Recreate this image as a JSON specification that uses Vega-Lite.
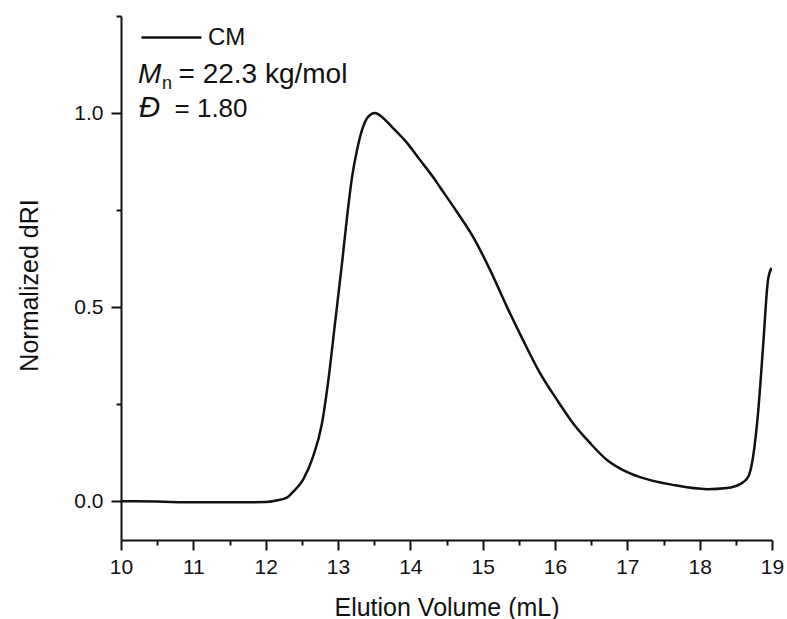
{
  "$schema": "https://vega.github.io/schema/vega-lite/v6.json",
  "width": 651,
  "height": 524,
  "autosize": {"type": "none"},
  "padding": {"left": 121, "top": 16, "right": 15, "bottom": 79},
  "background": "white",
  "config": {
    "view": {"stroke": null},
    "font": "Liberation Sans",
    "axis": {"grid": false, "domainColor": "#111", "tickColor": "#111", "labelColor": "#111", "titleColor": "#111", "labelFont": "Liberation Sans", "titleFont": "Liberation Sans", "titleFontWeight": "normal"},
    "text": {"font": "Liberation Sans", "color": "#111"}
  },
  "data": {"values": [
    {"vol": 10.0, "dri": 0.0, "sample": "CM"},
    {"vol": 10.5, "dri": -0.001, "sample": "CM"},
    {"vol": 11.0, "dri": -0.003, "sample": "CM"},
    {"vol": 11.5, "dri": -0.003, "sample": "CM"},
    {"vol": 12.0, "dri": -0.002, "sample": "CM"},
    {"vol": 12.15, "dri": 0.002, "sample": "CM"},
    {"vol": 12.3, "dri": 0.010, "sample": "CM"},
    {"vol": 12.378, "dri": 0.024, "sample": "CM"},
    {"vol": 12.516, "dri": 0.055, "sample": "CM"},
    {"vol": 12.654, "dri": 0.114, "sample": "CM"},
    {"vol": 12.779, "dri": 0.201, "sample": "CM"},
    {"vol": 12.862, "dri": 0.305, "sample": "CM"},
    {"vol": 12.959, "dri": 0.459, "sample": "CM"},
    {"vol": 13.056, "dri": 0.614, "sample": "CM"},
    {"vol": 13.125, "dri": 0.732, "sample": "CM"},
    {"vol": 13.194, "dri": 0.835, "sample": "CM"},
    {"vol": 13.263, "dri": 0.905, "sample": "CM"},
    {"vol": 13.332, "dri": 0.956, "sample": "CM"},
    {"vol": 13.415, "dri": 0.990, "sample": "CM"},
    {"vol": 13.512, "dri": 1.0, "sample": "CM"},
    {"vol": 13.608, "dri": 0.990, "sample": "CM"},
    {"vol": 13.761, "dri": 0.961, "sample": "CM"},
    {"vol": 13.954, "dri": 0.923, "sample": "CM"},
    {"vol": 14.134, "dri": 0.879, "sample": "CM"},
    {"vol": 14.314, "dri": 0.835, "sample": "CM"},
    {"vol": 14.41, "dri": 0.809, "sample": "CM"},
    {"vol": 14.645, "dri": 0.745, "sample": "CM"},
    {"vol": 14.867, "dri": 0.681, "sample": "CM"},
    {"vol": 15.102, "dri": 0.596, "sample": "CM"},
    {"vol": 15.337, "dri": 0.500, "sample": "CM"},
    {"vol": 15.558, "dri": 0.415, "sample": "CM"},
    {"vol": 15.793, "dri": 0.330, "sample": "CM"},
    {"vol": 16.028, "dri": 0.261, "sample": "CM"},
    {"vol": 16.249, "dri": 0.201, "sample": "CM"},
    {"vol": 16.484, "dri": 0.150, "sample": "CM"},
    {"vol": 16.719, "dri": 0.106, "sample": "CM"},
    {"vol": 16.94, "dri": 0.080, "sample": "CM"},
    {"vol": 17.175, "dri": 0.062, "sample": "CM"},
    {"vol": 17.632, "dri": 0.042, "sample": "CM"},
    {"vol": 18.102, "dri": 0.031, "sample": "CM"},
    {"vol": 18.378, "dri": 0.034, "sample": "CM"},
    {"vol": 18.558, "dri": 0.044, "sample": "CM"},
    {"vol": 18.669, "dri": 0.062, "sample": "CM"},
    {"vol": 18.738, "dri": 0.114, "sample": "CM"},
    {"vol": 18.807, "dri": 0.227, "sample": "CM"},
    {"vol": 18.876, "dri": 0.397, "sample": "CM"},
    {"vol": 18.945, "dri": 0.570, "sample": "CM"},
    {"vol": 18.993, "dri": 0.601, "sample": "CM"}
  ]},
  "resolve": {"axis": {"x": "independent", "y": "independent"}},
  "layer": [
    {
      "mark": {"type": "line", "interpolate": "monotone", "strokeWidth": 2.5, "clip": true},
      "encoding": {
        "x": {"field": "vol", "type": "quantitative",
              "scale": {"domain": [10, 19], "nice": false, "zero": false},
              "axis": {"orient": "bottom", "values": [10,11,12,13,14,15,16,17,18,19], "title": "Elution Volume (mL)",
                       "labelFontSize": 21, "titleFontSize": 25, "tickSize": 10, "tickWidth": 2, "domainWidth": 2,
                       "labelPadding": 6, "labelFlush": false, "labelOverlap": false,
                       "titleY": 75, "titleBaseline": "alphabetic"}},
        "y": {"field": "dri", "type": "quantitative",
              "scale": {"domain": [-0.1, 1.25], "nice": false, "zero": false},
              "axis": {"orient": "left", "values": [0, 0.5, 1.0], "format": ".1f", "title": "Normalized dRI",
                       "labelFontSize": 21, "titleFontSize": 25, "tickSize": 10, "tickWidth": 2, "domainWidth": 2,
                       "labelPadding": 8, "labelFlush": false,
                       "titleX": -84, "titleY": 269, "titleAngle": -90, "titleBaseline": "alphabetic", "titleAlign": "center"}},
        "color": {"field": "sample", "type": "nominal",
                  "scale": {"range": ["#111111"]},
                  "legend": {"title": null, "orient": "none", "legendX": 19, "legendY": -10,
                             "symbolSize": 3600, "symbolStrokeWidth": 2.5, "symbolType": "stroke",
                             "labelFontSize": 24, "labelOffset": 5, "labelColor": "#111", "padding": 0, "labelFont": "Liberation Sans"}}
      }
    },
    {
      "mark": {"type": "line", "strokeOpacity": 0},
      "encoding": {
        "x": {"field": "vol", "type": "quantitative",
              "axis": {"orient": "bottom", "values": [10.5,11.5,12.5,13.5,14.5,15.5,16.5,17.5,18.5], "labels": false, "domain": false,
                       "title": null, "tickSize": 5, "tickWidth": 2}},
        "y": {"field": "dri", "type": "quantitative",
              "axis": {"orient": "left", "values": [0.25, 0.75, 1.25], "labels": false, "domain": false,
                       "title": null, "tickSize": 5, "tickWidth": 2}}
      }
    },
    {
      "data": {"values": [{"t": "M"}]},
      "mark": {"type": "text", "fontSize": 28, "fontStyle": "italic", "align": "left", "baseline": "alphabetic", "color": "#111"},
      "encoding": {"x": {"datum": 10.235, "type": "quantitative", "axis": null}, "y": {"datum": 1.077, "type": "quantitative", "axis": null}, "text": {"field": "t"}}
    },
    {
      "data": {"values": [{"t": "n"}]},
      "mark": {"type": "text", "fontSize": 18, "align": "left", "baseline": "alphabetic", "color": "#111"},
      "encoding": {"x": {"datum": 10.567, "type": "quantitative", "axis": null}, "y": {"datum": 1.062, "type": "quantitative", "axis": null}, "text": {"field": "t"}}
    },
    {
      "data": {"values": [{"t": "= 22.3 kg/mol"}]},
      "mark": {"type": "text", "fontSize": 28, "align": "left", "baseline": "alphabetic", "color": "#111"},
      "encoding": {"x": {"datum": 10.795, "type": "quantitative", "axis": null}, "y": {"datum": 1.077, "type": "quantitative", "axis": null}, "text": {"field": "t"}}
    },
    {
      "data": {"values": [{"t": "Đ"}]},
      "mark": {"type": "text", "fontSize": 29, "fontStyle": "italic", "align": "left", "baseline": "alphabetic", "color": "#111"},
      "encoding": {"x": {"datum": 10.25, "type": "quantitative", "axis": null}, "y": {"datum": 0.990, "type": "quantitative", "axis": null}, "text": {"field": "t"}}
    },
    {
      "data": {"values": [{"t": "= 1.80"}]},
      "mark": {"type": "text", "fontSize": 26, "align": "left", "baseline": "alphabetic", "color": "#111"},
      "encoding": {"x": {"datum": 10.74, "type": "quantitative", "axis": null}, "y": {"datum": 0.990, "type": "quantitative", "axis": null}, "text": {"field": "t"}}
    }
  ]
}
